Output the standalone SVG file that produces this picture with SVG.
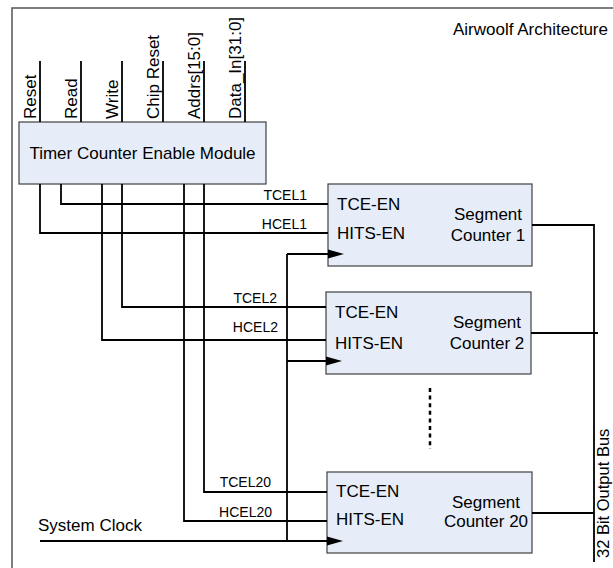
<svg xmlns="http://www.w3.org/2000/svg" width="613" height="568" viewBox="0 0 613 568">
<style>
text{font-family:"Liberation Sans",Arial,sans-serif;fill:#000}
.big{font-size:17px}
.sm{font-size:14px}
.box{fill:#e6edf8;stroke:#404040;stroke-width:1.2}
.w{fill:none;stroke:#000;stroke-width:1.8}
.frame{fill:none;stroke:#555;stroke-width:1.5}
.arr{fill:#000}
</style>
<rect width="613" height="568" fill="#fff"/>
<g id="frame"><path class="frame" d="M12,568 V8 H613"/></g>
<text class="big" x="453" y="35">Airwoolf Architecture</text>
<g id="tce-module">
  <rect class="box" x="19" y="122" width="247" height="62"/>
  <text class="big" x="142.5" y="159" text-anchor="middle">Timer Counter Enable Module</text>
</g>
<g id="segment-counter-1">
  <rect class="box" x="328" y="184" width="204" height="82"/>
  <text class="big" x="337" y="210">TCE-EN</text>
  <text class="big" x="337" y="239">HITS-EN</text>
  <text class="big" x="488" y="220" text-anchor="middle">Segment</text>
  <text class="big" x="488" y="241" text-anchor="middle">Counter 1</text>
</g>
<g id="segment-counter-2">
  <rect class="box" x="326" y="292" width="205" height="82"/>
  <text class="big" x="335" y="318">TCE-EN</text>
  <text class="big" x="335" y="349">HITS-EN</text>
  <text class="big" x="487" y="328" text-anchor="middle">Segment</text>
  <text class="big" x="487" y="349" text-anchor="middle">Counter 2</text>
</g>
<g id="segment-counter-20">
  <rect class="box" x="327" y="472" width="205" height="81"/>
  <text class="big" x="336" y="497">TCE-EN</text>
  <text class="big" x="336" y="525">HITS-EN</text>
  <text class="big" x="486" y="508" text-anchor="middle">Segment</text>
  <text class="big" x="486" y="527" text-anchor="middle">Counter 20</text>
</g>
<g id="connectors">
  <path class="w" d="M40,61V122M81,61V122M122,61V122M163,61V122M204,61V122M245,61V122"/>
  <path class="w" d="M61,184V204H328"/>
  <path class="w" d="M40,184V233H328"/>
  <path class="w" d="M122,184V307H326"/>
  <path class="w" d="M102,184V340H326"/>
  <path class="w" d="M204,184V492H327"/>
  <path class="w" d="M184,184V521H327"/>
  <path class="w" d="M287,254V541"/>
  <path class="w" d="M287,254H330M287,361H328M40,541H329"/>
  <polygon class="arr" points="328,249.5 344,254 328,258.5"/>
  <polygon class="arr" points="326,356.5 342,361 326,365.5"/>
  <polygon class="arr" points="327,536.5 343,541 327,545.5"/>
  <path class="w" d="M532,225H594V562M531,333H598M532,513H594"/>
  <path d="M430,388V449" fill="none" stroke="#000" stroke-width="2.5" stroke-dasharray="4 3.6"/>
</g>
<g id="labels">
  <text class="big" transform="translate(36,119) rotate(-90)">Reset</text>
  <text class="big" transform="translate(77,119) rotate(-90)">Read</text>
  <text class="big" transform="translate(118,119) rotate(-90)">Write</text>
  <text class="big" transform="translate(159,119) rotate(-90)">Chip Reset</text>
  <text class="big" transform="translate(200,119) rotate(-90)">Addrs[15:0]</text>
  <text class="big" transform="translate(241,119) rotate(-90)">Data_In[31:0]</text>
  <text class="sm" x="307" y="200" text-anchor="end">TCEL1</text>
  <text class="sm" x="307" y="229" text-anchor="end">HCEL1</text>
  <text class="sm" x="277" y="303" text-anchor="end">TCEL2</text>
  <text class="sm" x="278" y="332" text-anchor="end">HCEL2</text>
  <text class="sm" x="271" y="487" text-anchor="end">TCEL20</text>
  <text class="sm" x="272" y="517" text-anchor="end">HCEL20</text>
  <text class="big" x="38" y="531">System Clock</text>
  <text style="font-size:16.5px" transform="translate(608.5,558) rotate(-90)">32 Bit Output Bus</text>
</g>
</svg>
